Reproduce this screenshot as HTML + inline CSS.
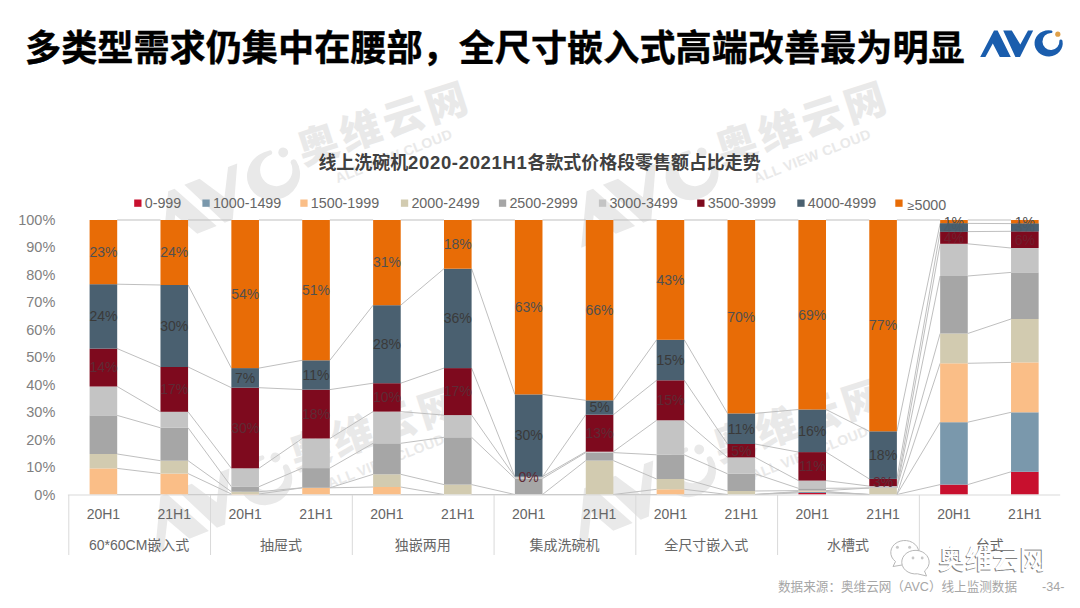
<!DOCTYPE html>
<html><head><meta charset="utf-8"><title>slide</title>
<style>
html,body{margin:0;padding:0;background:#fff;}
body{width:1080px;height:608px;position:relative;overflow:hidden;font-family:"Liberation Sans","Noto Sans CJK SC",sans-serif;}
.title{position:absolute;left:25px;top:18.7px;font-size:36.15px;font-weight:bold;-webkit-text-stroke:0.4px #000;color:#000;white-space:nowrap;letter-spacing:0px;font-family:"Liberation Sans","Noto Sans CJK SC",sans-serif;}
.chart{position:absolute;left:0;top:0;}
.chart text{font-family:"Liberation Sans","Noto Sans CJK SC",sans-serif;}
.ctitle{font-size:17.95px;font-weight:bold;fill:#404040;}
.legend text{font-size:14.3px;fill:#666;}
.ylab text{font-size:14.5px;fill:#7f7f7f;}
.xlab text{font-size:14px;fill:#666;}
.dl text{font-size:14px;fill:#505050;}
.dl text.dk{fill:#3a3a3a;}
.dl text.dr{fill:#5e2a35;}
.foot{font-size:12.6px;fill:#a6a6a6;}
.wm1{font-size:41px;font-weight:900;letter-spacing:4px;}
.wm2{font-size:14px;font-weight:bold;letter-spacing:0.3px;}
.wx{font-size:27px;font-weight:500;}
</style></head><body>
<div class="title">多类型需求仍集中在腰部，全尺寸嵌入式高端改善最为明显</div>
<svg class="chart" width="1080" height="608" viewBox="0 0 1080 608">
<g transform="translate(317.7,143.9)" fill="#E9E9E9">
<g transform="rotate(-22) translate(-183,-13) scale(1.9) translate(-980,-30)">
<path d="M980.2 57 L994 30.5 L997.6 30.5 L1010.8 57 L999.8 57 L992.8 43.4 L985.4 57 Z"/>
<path d="M1003.2 30.5 L1011.8 30.5 L1020.3 44.5 L1028 30.5 L1033.2 30.5 L1020 57 L1015.4 57 Z"/>
<path d="M1051.5 30.5 A14.1 13.1 0 1 0 1062.5 41 A1.6 1.6 0 0 0 1059.4 40.6 A8.5 8.5 0 1 1 1051 32.9 A1.2 1.2 0 0 0 1051.5 30.5 Z"/>
<circle cx="1057.8" cy="34.2" r="2.6"/>
</g>
<text transform="rotate(-18)" x="-20.5" y="15.6" class="wm1">奥维云网</text>
<text transform="rotate(-21.5)" x="4" y="44" class="wm2">ALL VIEW CLOUD</text>
</g>
<g transform="translate(736.2,143.9)" fill="#E9E9E9">
<g transform="rotate(-22) translate(-183,-13) scale(1.9) translate(-980,-30)">
<path d="M980.2 57 L994 30.5 L997.6 30.5 L1010.8 57 L999.8 57 L992.8 43.4 L985.4 57 Z"/>
<path d="M1003.2 30.5 L1011.8 30.5 L1020.3 44.5 L1028 30.5 L1033.2 30.5 L1020 57 L1015.4 57 Z"/>
<path d="M1051.5 30.5 A14.1 13.1 0 1 0 1062.5 41 A1.6 1.6 0 0 0 1059.4 40.6 A8.5 8.5 0 1 1 1051 32.9 A1.2 1.2 0 0 0 1051.5 30.5 Z"/>
<circle cx="1057.8" cy="34.2" r="2.6"/>
</g>
<text transform="rotate(-18)" x="-20.5" y="15.6" class="wm1">奥维云网</text>
<text transform="rotate(-21.5)" x="4" y="44" class="wm2">ALL VIEW CLOUD</text>
</g>
<g transform="translate(309.9,448.9)" fill="#E9E9E9">
<g transform="rotate(-22) translate(-183,-13) scale(1.9) translate(-980,-30)">
<path d="M980.2 57 L994 30.5 L997.6 30.5 L1010.8 57 L999.8 57 L992.8 43.4 L985.4 57 Z"/>
<path d="M1003.2 30.5 L1011.8 30.5 L1020.3 44.5 L1028 30.5 L1033.2 30.5 L1020 57 L1015.4 57 Z"/>
<path d="M1051.5 30.5 A14.1 13.1 0 1 0 1062.5 41 A1.6 1.6 0 0 0 1059.4 40.6 A8.5 8.5 0 1 1 1051 32.9 A1.2 1.2 0 0 0 1051.5 30.5 Z"/>
<circle cx="1057.8" cy="34.2" r="2.6"/>
</g>
<text transform="rotate(-18)" x="-20.5" y="15.6" class="wm1">奥维云网</text>
<text transform="rotate(-21.5)" x="4" y="44" class="wm2">ALL VIEW CLOUD</text>
</g>
<g transform="translate(733.7,440.9)" fill="#E9E9E9">
<g transform="rotate(-22) translate(-183,-13) scale(1.9) translate(-980,-30)">
<path d="M980.2 57 L994 30.5 L997.6 30.5 L1010.8 57 L999.8 57 L992.8 43.4 L985.4 57 Z"/>
<path d="M1003.2 30.5 L1011.8 30.5 L1020.3 44.5 L1028 30.5 L1033.2 30.5 L1020 57 L1015.4 57 Z"/>
<path d="M1051.5 30.5 A14.1 13.1 0 1 0 1062.5 41 A1.6 1.6 0 0 0 1059.4 40.6 A8.5 8.5 0 1 1 1051 32.9 A1.2 1.2 0 0 0 1051.5 30.5 Z"/>
<circle cx="1057.8" cy="34.2" r="2.6"/>
</g>
<text transform="rotate(-18)" x="-20.5" y="15.6" class="wm1">奥维云网</text>
<text transform="rotate(-21.5)" x="4" y="44" class="wm2">ALL VIEW CLOUD</text>
</g>
<text x="318.4" y="169.3" class="ctitle">线上洗碗机<tspan font-size="18.5" letter-spacing="0.66">2020-2021H1</tspan>各款式价格段零售额占比走势</text>
<g class="legend">
<rect x="134.2" y="199.5" width="7.3" height="7.3" fill="#C8102E"/>
<text x="144.7" y="208">0-999</text>
<rect x="202.4" y="199.5" width="7.3" height="7.3" fill="#7A98AC"/>
<text x="212.9" y="208">1000-1499</text>
<rect x="300.3" y="199.5" width="7.3" height="7.3" fill="#FABE87"/>
<text x="310.8" y="208">1500-1999</text>
<rect x="400.9" y="199.5" width="7.3" height="7.3" fill="#D2CBB0"/>
<text x="411.4" y="208">2000-2499</text>
<rect x="498.9" y="199.5" width="7.3" height="7.3" fill="#A6A6A6"/>
<text x="509.4" y="208">2500-2999</text>
<rect x="598.9" y="199.5" width="7.3" height="7.3" fill="#C4C4C4"/>
<text x="609.4" y="208">3000-3499</text>
<rect x="697.2" y="199.5" width="7.3" height="7.3" fill="#7E0A1E"/>
<text x="707.7" y="208">3500-3999</text>
<rect x="797.3" y="199.5" width="7.3" height="7.3" fill="#4A6070"/>
<text x="807.8" y="208">4000-4999</text>
<rect x="895.3" y="199.5" width="7.3" height="7.3" fill="#E86C06"/>
<text x="907.6" y="210.3"><tspan font-size="12.5">≥</tspan>5000</text>
</g>
<g class="ylab">
<text x="55.3" y="499.5" text-anchor="end">0%</text>
<text x="55.3" y="472.05" text-anchor="end">10%</text>
<text x="55.3" y="444.6" text-anchor="end">20%</text>
<text x="55.3" y="417.15" text-anchor="end">30%</text>
<text x="55.3" y="389.7" text-anchor="end">40%</text>
<text x="55.3" y="362.25" text-anchor="end">50%</text>
<text x="55.3" y="334.8" text-anchor="end">60%</text>
<text x="55.3" y="307.35" text-anchor="end">70%</text>
<text x="55.3" y="279.9" text-anchor="end">80%</text>
<text x="55.3" y="252.45" text-anchor="end">90%</text>
<text x="55.3" y="225" text-anchor="end">100%</text>
</g>
<g class="sl" stroke="#BFBFBF" stroke-width="1">
<line x1="117.2" y1="494.5" x2="160.48" y2="494.5"/>
<line x1="117.2" y1="494.5" x2="160.48" y2="494.5"/>
<line x1="117.2" y1="468.4" x2="160.48" y2="473.6"/>
<line x1="117.2" y1="454" x2="160.48" y2="460.7"/>
<line x1="117.2" y1="415.4" x2="160.48" y2="427.8"/>
<line x1="117.2" y1="386.5" x2="160.48" y2="411.8"/>
<line x1="117.2" y1="348.6" x2="160.48" y2="367"/>
<line x1="117.2" y1="284.2" x2="160.48" y2="285"/>
<line x1="117.2" y1="220" x2="160.48" y2="220"/>
<line x1="188.08" y1="494.5" x2="231.36" y2="494.5"/>
<line x1="188.08" y1="494.5" x2="231.36" y2="494.5"/>
<line x1="188.08" y1="473.6" x2="231.36" y2="494"/>
<line x1="188.08" y1="460.7" x2="231.36" y2="491.7"/>
<line x1="188.08" y1="427.8" x2="231.36" y2="486.7"/>
<line x1="188.08" y1="411.8" x2="231.36" y2="468.3"/>
<line x1="188.08" y1="367" x2="231.36" y2="387.7"/>
<line x1="188.08" y1="285" x2="231.36" y2="368.1"/>
<line x1="188.08" y1="220" x2="231.36" y2="220"/>
<line x1="258.96" y1="494.5" x2="302.24" y2="494.5"/>
<line x1="258.96" y1="494.5" x2="302.24" y2="494.5"/>
<line x1="258.96" y1="494" x2="302.24" y2="487.8"/>
<line x1="258.96" y1="491.7" x2="302.24" y2="487.8"/>
<line x1="258.96" y1="486.7" x2="302.24" y2="468.1"/>
<line x1="258.96" y1="468.3" x2="302.24" y2="438.5"/>
<line x1="258.96" y1="387.7" x2="302.24" y2="389.6"/>
<line x1="258.96" y1="368.1" x2="302.24" y2="360.3"/>
<line x1="258.96" y1="220" x2="302.24" y2="220"/>
<line x1="329.84" y1="494.5" x2="373.12" y2="494.5"/>
<line x1="329.84" y1="494.5" x2="373.12" y2="494.5"/>
<line x1="329.84" y1="487.8" x2="373.12" y2="487"/>
<line x1="329.84" y1="487.8" x2="373.12" y2="474.3"/>
<line x1="329.84" y1="468.1" x2="373.12" y2="443.3"/>
<line x1="329.84" y1="438.5" x2="373.12" y2="411.6"/>
<line x1="329.84" y1="389.6" x2="373.12" y2="383.2"/>
<line x1="329.84" y1="360.3" x2="373.12" y2="305.2"/>
<line x1="329.84" y1="220" x2="373.12" y2="220"/>
<line x1="400.72" y1="494.5" x2="444" y2="494.5"/>
<line x1="400.72" y1="494.5" x2="444" y2="494.5"/>
<line x1="400.72" y1="487" x2="444" y2="494.5"/>
<line x1="400.72" y1="474.3" x2="444" y2="484.6"/>
<line x1="400.72" y1="443.3" x2="444" y2="437.3"/>
<line x1="400.72" y1="411.6" x2="444" y2="415.1"/>
<line x1="400.72" y1="383.2" x2="444" y2="368.1"/>
<line x1="400.72" y1="305.2" x2="444" y2="268.7"/>
<line x1="400.72" y1="220" x2="444" y2="220"/>
<line x1="471.6" y1="494.5" x2="514.88" y2="494.5"/>
<line x1="471.6" y1="494.5" x2="514.88" y2="494.5"/>
<line x1="471.6" y1="494.5" x2="514.88" y2="494.5"/>
<line x1="471.6" y1="484.6" x2="514.88" y2="494.5"/>
<line x1="471.6" y1="437.3" x2="514.88" y2="478.5"/>
<line x1="471.6" y1="415.1" x2="514.88" y2="476.7"/>
<line x1="471.6" y1="368.1" x2="514.88" y2="476.7"/>
<line x1="471.6" y1="268.7" x2="514.88" y2="394.4"/>
<line x1="471.6" y1="220" x2="514.88" y2="220"/>
<line x1="542.48" y1="494.5" x2="585.76" y2="494.5"/>
<line x1="542.48" y1="494.5" x2="585.76" y2="494.5"/>
<line x1="542.48" y1="494.5" x2="585.76" y2="494.5"/>
<line x1="542.48" y1="494.5" x2="585.76" y2="460.6"/>
<line x1="542.48" y1="478.5" x2="585.76" y2="452.6"/>
<line x1="542.48" y1="476.7" x2="585.76" y2="451.7"/>
<line x1="542.48" y1="476.7" x2="585.76" y2="414.7"/>
<line x1="542.48" y1="394.4" x2="585.76" y2="400.3"/>
<line x1="542.48" y1="220" x2="585.76" y2="220"/>
<line x1="613.36" y1="494.5" x2="656.64" y2="494.5"/>
<line x1="613.36" y1="494.5" x2="656.64" y2="494.5"/>
<line x1="613.36" y1="494.5" x2="656.64" y2="489.3"/>
<line x1="613.36" y1="460.6" x2="656.64" y2="479"/>
<line x1="613.36" y1="452.6" x2="656.64" y2="454.8"/>
<line x1="613.36" y1="451.7" x2="656.64" y2="420.3"/>
<line x1="613.36" y1="414.7" x2="656.64" y2="380.3"/>
<line x1="613.36" y1="400.3" x2="656.64" y2="339.8"/>
<line x1="613.36" y1="220" x2="656.64" y2="220"/>
<line x1="684.24" y1="494.5" x2="727.52" y2="494.5"/>
<line x1="684.24" y1="494.5" x2="727.52" y2="494.5"/>
<line x1="684.24" y1="489.3" x2="727.52" y2="494.5"/>
<line x1="684.24" y1="479" x2="727.52" y2="491"/>
<line x1="684.24" y1="454.8" x2="727.52" y2="473.8"/>
<line x1="684.24" y1="420.3" x2="727.52" y2="457.4"/>
<line x1="684.24" y1="380.3" x2="727.52" y2="444"/>
<line x1="684.24" y1="339.8" x2="727.52" y2="413.4"/>
<line x1="684.24" y1="220" x2="727.52" y2="220"/>
<line x1="755.12" y1="494.5" x2="798.4" y2="493"/>
<line x1="755.12" y1="494.5" x2="798.4" y2="492"/>
<line x1="755.12" y1="494.5" x2="798.4" y2="491.5"/>
<line x1="755.12" y1="491" x2="798.4" y2="490.6"/>
<line x1="755.12" y1="473.8" x2="798.4" y2="488.3"/>
<line x1="755.12" y1="457.4" x2="798.4" y2="480.6"/>
<line x1="755.12" y1="444" x2="798.4" y2="452.1"/>
<line x1="755.12" y1="413.4" x2="798.4" y2="409.5"/>
<line x1="755.12" y1="220" x2="798.4" y2="220"/>
<line x1="826" y1="493" x2="869.28" y2="494.5"/>
<line x1="826" y1="492" x2="869.28" y2="494.5"/>
<line x1="826" y1="491.5" x2="869.28" y2="494.5"/>
<line x1="826" y1="490.6" x2="869.28" y2="488"/>
<line x1="826" y1="488.3" x2="869.28" y2="488"/>
<line x1="826" y1="480.6" x2="869.28" y2="486.1"/>
<line x1="826" y1="452.1" x2="869.28" y2="478.9"/>
<line x1="826" y1="409.5" x2="869.28" y2="431.3"/>
<line x1="826" y1="220" x2="869.28" y2="220"/>
<line x1="896.88" y1="494.5" x2="940.16" y2="484.6"/>
<line x1="896.88" y1="494.5" x2="940.16" y2="422.2"/>
<line x1="896.88" y1="494.5" x2="940.16" y2="363.3"/>
<line x1="896.88" y1="488" x2="940.16" y2="333.5"/>
<line x1="896.88" y1="488" x2="940.16" y2="276"/>
<line x1="896.88" y1="486.1" x2="940.16" y2="243.8"/>
<line x1="896.88" y1="478.9" x2="940.16" y2="231.6"/>
<line x1="896.88" y1="431.3" x2="940.16" y2="223.4"/>
<line x1="896.88" y1="220" x2="940.16" y2="220"/>
<line x1="967.76" y1="484.6" x2="1011.04" y2="471.8"/>
<line x1="967.76" y1="422.2" x2="1011.04" y2="412.3"/>
<line x1="967.76" y1="363.3" x2="1011.04" y2="362.4"/>
<line x1="967.76" y1="333.5" x2="1011.04" y2="319"/>
<line x1="967.76" y1="276" x2="1011.04" y2="272.4"/>
<line x1="967.76" y1="243.8" x2="1011.04" y2="248"/>
<line x1="967.76" y1="231.6" x2="1011.04" y2="231.3"/>
<line x1="967.76" y1="223.4" x2="1011.04" y2="223.6"/>
<line x1="967.76" y1="220" x2="1011.04" y2="220"/>
</g>
<g>
<rect x="89.6" y="468.4" width="27.6" height="26.1" fill="#FABE87"/>
<rect x="89.6" y="454" width="27.6" height="14.4" fill="#D2CBB0"/>
<rect x="89.6" y="415.4" width="27.6" height="38.6" fill="#A6A6A6"/>
<rect x="89.6" y="386.5" width="27.6" height="28.9" fill="#C4C4C4"/>
<rect x="89.6" y="348.6" width="27.6" height="37.9" fill="#7E0A1E"/>
<rect x="89.6" y="284.2" width="27.6" height="64.4" fill="#4A6070"/>
<rect x="89.6" y="220" width="27.6" height="64.2" fill="#E86C06"/>
<rect x="160.48" y="473.6" width="27.6" height="20.9" fill="#FABE87"/>
<rect x="160.48" y="460.7" width="27.6" height="12.9" fill="#D2CBB0"/>
<rect x="160.48" y="427.8" width="27.6" height="32.9" fill="#A6A6A6"/>
<rect x="160.48" y="411.8" width="27.6" height="16" fill="#C4C4C4"/>
<rect x="160.48" y="367" width="27.6" height="44.8" fill="#7E0A1E"/>
<rect x="160.48" y="285" width="27.6" height="82" fill="#4A6070"/>
<rect x="160.48" y="220" width="27.6" height="65" fill="#E86C06"/>
<rect x="231.36" y="494" width="27.6" height="0.5" fill="#FABE87"/>
<rect x="231.36" y="491.7" width="27.6" height="2.3" fill="#D2CBB0"/>
<rect x="231.36" y="486.7" width="27.6" height="5" fill="#A6A6A6"/>
<rect x="231.36" y="468.3" width="27.6" height="18.4" fill="#C4C4C4"/>
<rect x="231.36" y="387.7" width="27.6" height="80.6" fill="#7E0A1E"/>
<rect x="231.36" y="368.1" width="27.6" height="19.6" fill="#4A6070"/>
<rect x="231.36" y="220" width="27.6" height="148.1" fill="#E86C06"/>
<rect x="302.24" y="487.8" width="27.6" height="6.7" fill="#FABE87"/>
<rect x="302.24" y="468.1" width="27.6" height="19.7" fill="#A6A6A6"/>
<rect x="302.24" y="438.5" width="27.6" height="29.6" fill="#C4C4C4"/>
<rect x="302.24" y="389.6" width="27.6" height="48.9" fill="#7E0A1E"/>
<rect x="302.24" y="360.3" width="27.6" height="29.3" fill="#4A6070"/>
<rect x="302.24" y="220" width="27.6" height="140.3" fill="#E86C06"/>
<rect x="373.12" y="487" width="27.6" height="7.5" fill="#FABE87"/>
<rect x="373.12" y="474.3" width="27.6" height="12.7" fill="#D2CBB0"/>
<rect x="373.12" y="443.3" width="27.6" height="31" fill="#A6A6A6"/>
<rect x="373.12" y="411.6" width="27.6" height="31.7" fill="#C4C4C4"/>
<rect x="373.12" y="383.2" width="27.6" height="28.4" fill="#7E0A1E"/>
<rect x="373.12" y="305.2" width="27.6" height="78" fill="#4A6070"/>
<rect x="373.12" y="220" width="27.6" height="85.2" fill="#E86C06"/>
<rect x="444" y="484.6" width="27.6" height="9.9" fill="#D2CBB0"/>
<rect x="444" y="437.3" width="27.6" height="47.3" fill="#A6A6A6"/>
<rect x="444" y="415.1" width="27.6" height="22.2" fill="#C4C4C4"/>
<rect x="444" y="368.1" width="27.6" height="47" fill="#7E0A1E"/>
<rect x="444" y="268.7" width="27.6" height="99.4" fill="#4A6070"/>
<rect x="444" y="220" width="27.6" height="48.7" fill="#E86C06"/>
<rect x="514.88" y="478.5" width="27.6" height="16" fill="#A6A6A6"/>
<rect x="514.88" y="476.7" width="27.6" height="1.8" fill="#C4C4C4"/>
<rect x="514.88" y="394.4" width="27.6" height="82.3" fill="#4A6070"/>
<rect x="514.88" y="220" width="27.6" height="174.4" fill="#E86C06"/>
<rect x="585.76" y="460.6" width="27.6" height="33.9" fill="#D2CBB0"/>
<rect x="585.76" y="452.6" width="27.6" height="8" fill="#A6A6A6"/>
<rect x="585.76" y="451.7" width="27.6" height="0.9" fill="#C4C4C4"/>
<rect x="585.76" y="414.7" width="27.6" height="37" fill="#7E0A1E"/>
<rect x="585.76" y="400.3" width="27.6" height="14.4" fill="#4A6070"/>
<rect x="585.76" y="220" width="27.6" height="180.3" fill="#E86C06"/>
<rect x="656.64" y="489.3" width="27.6" height="5.2" fill="#FABE87"/>
<rect x="656.64" y="479" width="27.6" height="10.3" fill="#D2CBB0"/>
<rect x="656.64" y="454.8" width="27.6" height="24.2" fill="#A6A6A6"/>
<rect x="656.64" y="420.3" width="27.6" height="34.5" fill="#C4C4C4"/>
<rect x="656.64" y="380.3" width="27.6" height="40" fill="#7E0A1E"/>
<rect x="656.64" y="339.8" width="27.6" height="40.5" fill="#4A6070"/>
<rect x="656.64" y="220" width="27.6" height="119.8" fill="#E86C06"/>
<rect x="727.52" y="491" width="27.6" height="3.5" fill="#D2CBB0"/>
<rect x="727.52" y="473.8" width="27.6" height="17.2" fill="#A6A6A6"/>
<rect x="727.52" y="457.4" width="27.6" height="16.4" fill="#C4C4C4"/>
<rect x="727.52" y="444" width="27.6" height="13.4" fill="#7E0A1E"/>
<rect x="727.52" y="413.4" width="27.6" height="30.6" fill="#4A6070"/>
<rect x="727.52" y="220" width="27.6" height="193.4" fill="#E86C06"/>
<rect x="798.4" y="493" width="27.6" height="1.5" fill="#C8102E"/>
<rect x="798.4" y="492" width="27.6" height="1" fill="#7A98AC"/>
<rect x="798.4" y="491.5" width="27.6" height="0.5" fill="#FABE87"/>
<rect x="798.4" y="490.6" width="27.6" height="0.9" fill="#D2CBB0"/>
<rect x="798.4" y="488.3" width="27.6" height="2.3" fill="#A6A6A6"/>
<rect x="798.4" y="480.6" width="27.6" height="7.7" fill="#C4C4C4"/>
<rect x="798.4" y="452.1" width="27.6" height="28.5" fill="#7E0A1E"/>
<rect x="798.4" y="409.5" width="27.6" height="42.6" fill="#4A6070"/>
<rect x="798.4" y="220" width="27.6" height="189.5" fill="#E86C06"/>
<rect x="869.28" y="488" width="27.6" height="6.5" fill="#D2CBB0"/>
<rect x="869.28" y="486.1" width="27.6" height="1.9" fill="#C4C4C4"/>
<rect x="869.28" y="478.9" width="27.6" height="7.2" fill="#7E0A1E"/>
<rect x="869.28" y="431.3" width="27.6" height="47.6" fill="#4A6070"/>
<rect x="869.28" y="220" width="27.6" height="211.3" fill="#E86C06"/>
<rect x="940.16" y="484.6" width="27.6" height="9.9" fill="#C8102E"/>
<rect x="940.16" y="422.2" width="27.6" height="62.4" fill="#7A98AC"/>
<rect x="940.16" y="363.3" width="27.6" height="58.9" fill="#FABE87"/>
<rect x="940.16" y="333.5" width="27.6" height="29.8" fill="#D2CBB0"/>
<rect x="940.16" y="276" width="27.6" height="57.5" fill="#A6A6A6"/>
<rect x="940.16" y="243.8" width="27.6" height="32.2" fill="#C4C4C4"/>
<rect x="940.16" y="231.6" width="27.6" height="12.2" fill="#7E0A1E"/>
<rect x="940.16" y="223.4" width="27.6" height="8.2" fill="#4A6070"/>
<rect x="940.16" y="220" width="27.6" height="3.4" fill="#E86C06"/>
<rect x="1011.04" y="471.8" width="27.6" height="22.7" fill="#C8102E"/>
<rect x="1011.04" y="412.3" width="27.6" height="59.5" fill="#7A98AC"/>
<rect x="1011.04" y="362.4" width="27.6" height="49.9" fill="#FABE87"/>
<rect x="1011.04" y="319" width="27.6" height="43.4" fill="#D2CBB0"/>
<rect x="1011.04" y="272.4" width="27.6" height="46.6" fill="#A6A6A6"/>
<rect x="1011.04" y="248" width="27.6" height="24.4" fill="#C4C4C4"/>
<rect x="1011.04" y="231.3" width="27.6" height="16.7" fill="#7E0A1E"/>
<rect x="1011.04" y="223.6" width="27.6" height="7.7" fill="#4A6070"/>
<rect x="1011.04" y="220" width="27.6" height="3.6" fill="#E86C06"/>
</g>
<g class="dl" text-anchor="middle">
<text x="953.96" y="226.7">1%</text>
<text x="1024.84" y="226.8">1%</text>
</g>
<rect x="940.16" y="223.4" width="27.6" height="8.2" fill="#4A6070"/>
<rect x="1011.04" y="223.6" width="27.6" height="7.7" fill="#4A6070"/>
<g class="dl" text-anchor="middle">
<text x="103.4" y="372.35" class="dr">14%</text>
<text x="103.4" y="321.2" class="dk">24%</text>
<text x="103.4" y="256.9">23%</text>
<text x="174.28" y="394.2" class="dr">17%</text>
<text x="174.28" y="330.8" class="dk">30%</text>
<text x="174.28" y="257.3">24%</text>
<text x="245.16" y="432.8" class="dr">30%</text>
<text x="245.16" y="382.7" class="dk">7%</text>
<text x="245.16" y="298.85">54%</text>
<text x="316.04" y="418.85" class="dr">18%</text>
<text x="316.04" y="379.75" class="dk">11%</text>
<text x="316.04" y="294.95">51%</text>
<text x="386.92" y="402.2" class="dr">10%</text>
<text x="386.92" y="349" class="dk">28%</text>
<text x="386.92" y="267.4">31%</text>
<text x="457.8" y="396.4" class="dr">17%</text>
<text x="457.8" y="323.2" class="dk">36%</text>
<text x="457.8" y="249.15">18%</text>
<text x="528.68" y="481.5" class="dr">0%</text>
<text x="528.68" y="440.35" class="dk">30%</text>
<text x="528.68" y="312">63%</text>
<text x="599.56" y="438" class="dr">13%</text>
<text x="599.56" y="412.3" class="dk">5%</text>
<text x="599.56" y="314.95">66%</text>
<text x="670.44" y="405.1" class="dr">15%</text>
<text x="670.44" y="364.85" class="dk">15%</text>
<text x="670.44" y="284.7">43%</text>
<text x="741.32" y="455.5" class="dr">5%</text>
<text x="741.32" y="433.5" class="dk">11%</text>
<text x="741.32" y="321.5">70%</text>
<text x="812.2" y="471.15" class="dr">11%</text>
<text x="812.2" y="435.6" class="dk">16%</text>
<text x="812.2" y="319.55">69%</text>
<text x="883.08" y="487.3" class="dr">3%</text>
<text x="883.08" y="459.9" class="dk">18%</text>
<text x="883.08" y="330.45">77%</text>
<text x="953.96" y="242.7" opacity="0.3">4%</text>
<text x="953.96" y="232.5" opacity="0.3">4%</text>
<text x="1024.84" y="244.65" opacity="0.3">6%</text>
<text x="1024.84" y="232.45" opacity="0.3">3%</text>
</g>
<g stroke="#D9D9D9" stroke-width="1">
<line x1="67.9" y1="495" x2="1060.2" y2="495"/>
<line x1="68.8" y1="495" x2="68.8" y2="555"/>
<line x1="210.56" y1="495" x2="210.56" y2="555"/>
<line x1="352.32" y1="495" x2="352.32" y2="555"/>
<line x1="494.08" y1="495" x2="494.08" y2="555"/>
<line x1="635.84" y1="495" x2="635.84" y2="555"/>
<line x1="777.6" y1="495" x2="777.6" y2="555"/>
<line x1="919.36" y1="495" x2="919.36" y2="555"/>
</g>
<g class="xlab" text-anchor="middle">
<text x="103.4" y="519">20H1</text>
<text x="174.28" y="519">21H1</text>
<text x="245.16" y="519">20H1</text>
<text x="316.04" y="519">21H1</text>
<text x="386.92" y="519">20H1</text>
<text x="457.8" y="519">21H1</text>
<text x="528.68" y="519">20H1</text>
<text x="599.56" y="519">21H1</text>
<text x="670.44" y="519">20H1</text>
<text x="741.32" y="519">21H1</text>
<text x="812.2" y="519">20H1</text>
<text x="883.08" y="519">21H1</text>
<text x="953.96" y="519">20H1</text>
<text x="1024.84" y="519">21H1</text>
<text x="139.18" y="550">60*60CM嵌入式</text>
<text x="280.94" y="550">抽屉式</text>
<text x="422.7" y="550">独嵌两用</text>
<text x="564.46" y="550">集成洗碗机</text>
<text x="706.22" y="550">全尺寸嵌入式</text>
<text x="847.98" y="550">水槽式</text>
<text x="989.74" y="550">台式</text>
</g>
<g class="wechat">
<g fill="#fff" stroke="#B8B8B8" stroke-width="1">
<path d="M893 566.5 L895.5 561.5 A14 12 0 1 1 905 564.5 Z"/>
<path d="M926.5 576 L924.5 571 A13.7 11.8 0 1 0 917.5 573.8 Z"/>
</g>
<g fill="#C8C8C8"><circle cx="897.4" cy="547.2" r="1.5"/><circle cx="909.6" cy="547.2" r="1.5"/><circle cx="913" cy="558" r="1.4"/><circle cx="922.2" cy="558" r="1.4"/></g>
<text x="937.6" y="569.6" class="wx" fill="#808080">奥维云网</text>
<text x="938.5" y="568.5" class="wx" fill="#ffffff">奥维云网</text>
</g>
<text x="778" y="591" class="foot">数据来源：奥维云网（AVC）线上监测数据</text>
<text x="1042" y="591" class="foot">-34-</text>
</svg>
<svg class="logo" width="1080" height="608" viewBox="0 0 1080 608" style="position:absolute;left:0;top:0">
<path d="M980.2 57 L994 30.5 L997.6 30.5 L1010.8 57 L999.8 57 L992.8 43.4 L985.4 57 Z" fill="#1A5DAD"/>
<path d="M1003.2 30.5 L1011.8 30.5 L1020.3 44.5 L1028 30.5 L1033.2 30.5 L1020 57 L1015.4 57 Z" fill="#1A5DAD"/>
<path d="M1051.5 30.5 A14.1 13.1 0 1 0 1062.5 41 A1.6 1.6 0 0 0 1059.4 40.6 A8.5 8.5 0 1 1 1051 32.9 A1.2 1.2 0 0 0 1051.5 30.5 Z" fill="#1A5DAD"/>
<circle cx="1057.8" cy="34.2" r="2.6" fill="#DFA04A"/>
</svg>
</body></html>
